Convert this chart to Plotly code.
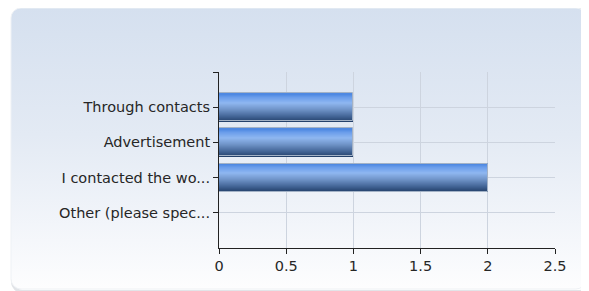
import base64
import plotly.graph_objects as go

# ---- data ----
categories = ["Through contacts", "Advertisement", "I contacted the wo...", "Other (please spec..."]
values = [1, 1, 2, 0]
x_ticks = [0, 0.5, 1, 1.5, 2, 2.5]
x_tick_labels = ["0", "0.5", "1", "1.5", "2", "2.5"]

# positions: first category at top
n = len(categories)
ypos = [n - 1 - i for i in range(n)]

# ---- styling ----
OFF = 8  # page body margin
W, H = 589 - OFF, 291 - OFF
ML, MR, MT, MB = 219 - OFF, 34, 72 - OFF, 43
PW, PH = W - ML - MR, H - MT - MB

def hex2rgb(h):
    h = h.lstrip("#")
    return tuple(int(h[i:i + 2], 16) for i in (0, 2, 4))

stops = [(0.0, "#4a86e0"), (0.12, "#6a9deb"), (0.32, "#8fb7f0"),
         (0.55, "#7094c8"), (0.8, "#436596"), (1.0, "#213e67")]

def grad(t):
    for (t0, c0), (t1, c1) in zip(stops[:-1], stops[1:]):
        if t0 <= t <= t1:
            f = (t - t0) / (t1 - t0) if t1 > t0 else 0
            a, b = hex2rgb(c0), hex2rgb(c1)
            return "rgb(%d,%d,%d)" % tuple(round(a[k] + (b[k] - a[k]) * f) for k in range(3))
    return stops[-1][1]

BAR_W = 0.8
NB = 28
bw = BAR_W / NB

fig = go.Figure()
for i in range(NB):
    # i = 0 is the bottom band
    t = 1 - (i + 0.5) / NB
    fig.add_trace(go.Bar(
        x=values, y=ypos, orientation="h",
        width=bw * 1.5 if i < NB - 1 else bw, offset=-BAR_W / 2 + i * bw,
        marker=dict(color=grad(t), line=dict(width=0)),
        hoverinfo="skip", showlegend=False,
    ))
# outline
fig.add_trace(go.Bar(
    x=values, y=ypos, orientation="h", width=BAR_W, offset=-BAR_W / 2,
    marker=dict(color="rgba(0,0,0,0)", line=dict(width=1, color="#a3b2c6")),
    showlegend=False,
))

# background panel as svg image (figure pixel coords)
svg = f'''<svg xmlns="http://www.w3.org/2000/svg" width="{W}" height="{H}" viewBox="0 0 {W} {H}">
<defs><linearGradient id="g" x1="0" y1="0" x2="0" y2="1">
<stop offset="0" stop-color="#d5e0ef"/><stop offset="0.45" stop-color="#e3eaf4"/>
<stop offset="1" stop-color="#fdfdfe"/></linearGradient></defs>
<rect x="4.5" y="1.5" width="576" height="282" rx="10" ry="10" fill="none" stroke="#e2e4e8" stroke-width="3"/>
<rect x="3" y="0" width="575" height="281" rx="10" ry="10" fill="url(#g)" stroke="#eef1f5" stroke-width="1"/>
</svg>'''
src = "data:image/svg+xml;base64," + base64.b64encode(svg.encode()).decode()

fig.add_layout_image(dict(
    source=src, xref="paper", yref="paper",
    x=-ML / PW, y=1 + MT / PH, sizex=W / PW, sizey=H / PH,
    xanchor="left", yanchor="top", sizing="stretch", layer="below",
))

font = dict(family="DejaVu Sans, Verdana, sans-serif", size=14.5, color="#262626")
fig.update_layout(
    width=W, height=H,
    margin=dict(l=ML, r=MR, t=MT, b=MB, pad=0),
    paper_bgcolor="white", plot_bgcolor="rgba(0,0,0,0)",
    barmode="overlay", bargap=0,
    font=font, showlegend=False,
    xaxis=dict(range=[0, 2.5], tickvals=x_ticks, ticktext=x_tick_labels,
               showgrid=True, gridcolor="#cdd4df", gridwidth=1,
               zeroline=False, showline=True, linecolor="#222222", linewidth=1,
               ticks="outside", ticklen=5, tickcolor="#222222", tickfont=font),
    yaxis=dict(range=[-1, n], tickvals=ypos + [n], ticktext=categories + [""],
               showgrid=True, gridcolor="#cdd4df", gridwidth=1,
               zeroline=False, showline=True, linecolor="#222222", linewidth=1,
               ticks="outside", ticklen=5, tickcolor="#222222", tickfont=font),
)

fig.write_html("out.html")
